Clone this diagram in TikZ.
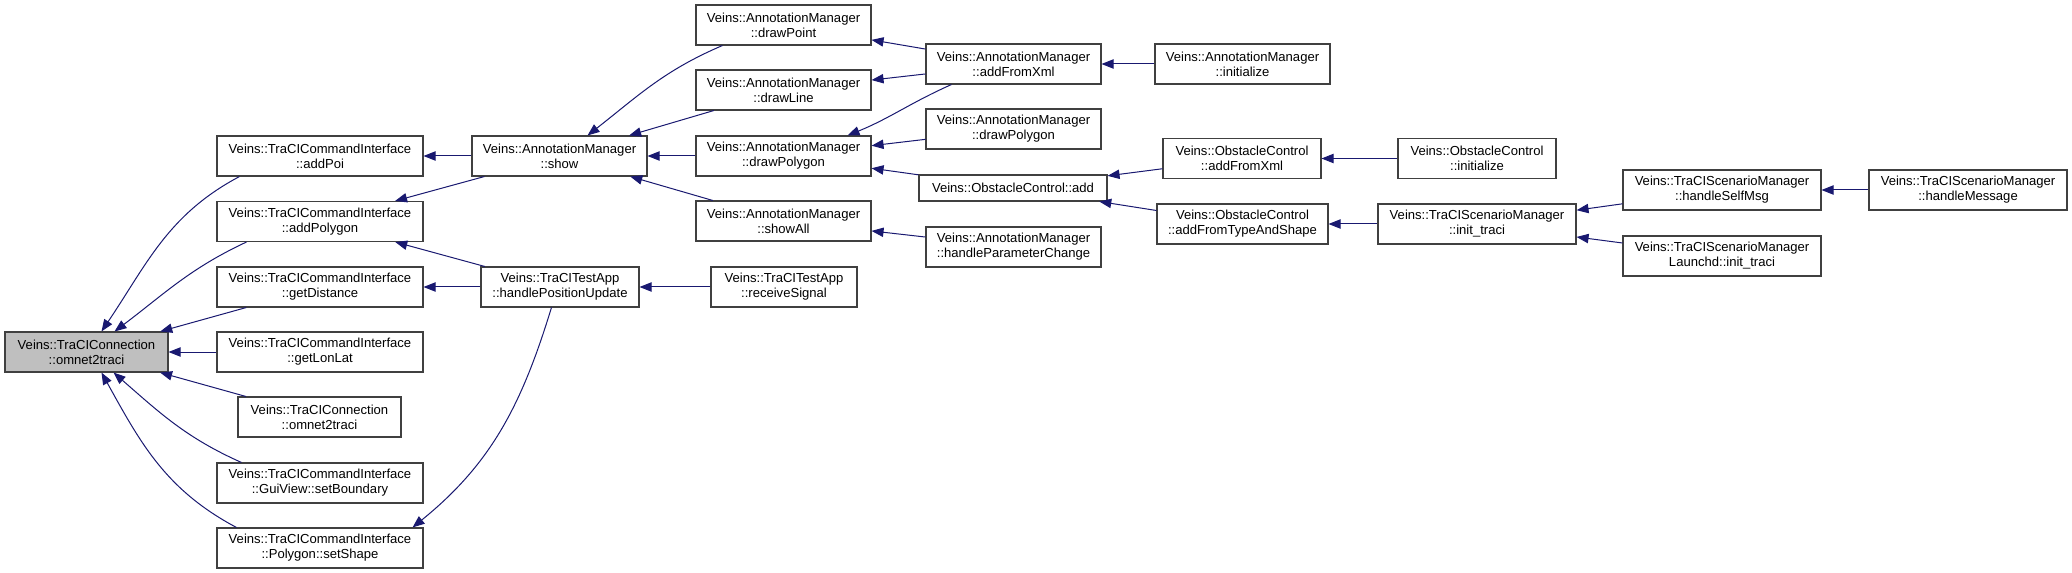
\documentclass[tikz,border=0pt]{standalone}
\usepackage{fontspec}
\setmainfont{Liberation Sans}
\usetikzlibrary{arrows.meta,calc}
\definecolor{callblue}{HTML}{191970}
\definecolor{rootgray}{HTML}{BFBFBF}
\tikzset{
  func/.style={draw=black!75, line width=0.8pt, minimum width=#1*0.75pt, minimum height=30pt,
    inner sep=0pt, align=center, font=\fontsize{9.8}{11.3}\selectfont},
  call/.style={draw=callblue, line width=0.75pt, -{Triangle[length=9pt,width=7pt]}}
}
\begin{document}
\begin{tikzpicture}[x=0.75pt, y=-0.75pt]
\useasboundingbox (0,0) rectangle (2072,573);
\node[func=163, fill=rootgray] (omnet) at (86.5,352) {Veins::TraCIConnection\\::omnet2traci};
\node[func=206] (addPoi) at (320,156) {Veins::TraCICommandInterface\\::addPoi};
\node[func=206] (addPolygon) at (320,221.5) {Veins::TraCICommandInterface\\::addPolygon};
\node[func=206] (getDistance) at (320,287) {Veins::TraCICommandInterface\\::getDistance};
\node[func=206] (getLonLat) at (320,352) {Veins::TraCICommandInterface\\::getLonLat};
\node[func=163] (omnetB) at (319.5,417) {Veins::TraCIConnection\\::omnet2traci};
\node[func=206] (setBoundary) at (320,483) {Veins::TraCICommandInterface\\::GuiView::setBoundary};
\node[func=206] (setShape) at (320,548) {Veins::TraCICommandInterface\\::Polygon::setShape};
\node[func=175] (show) at (559.5,156) {Veins::AnnotationManager\\::show};
\node[func=158] (posUpdate) at (560,287) {Veins::TraCITestApp\\::handlePositionUpdate};
\node[func=175] (drawPoint) at (783.5,25) {Veins::AnnotationManager\\::drawPoint};
\node[func=175] (drawLine) at (783.5,90) {Veins::AnnotationManager\\::drawLine};
\node[func=175] (drawPolygon) at (783.5,156) {Veins::AnnotationManager\\::drawPolygon};
\node[func=175] (showAll) at (783.5,221) {Veins::AnnotationManager\\::showAll};
\node[func=146] (receiveSignal) at (784,287) {Veins::TraCITestApp\\::receiveSignal};
\node[func=175] (amAddFromXml) at (1013.5,64) {Veins::AnnotationManager\\::addFromXml};
\node[func=175] (drawPolygonB) at (1013.5,129) {Veins::AnnotationManager\\::drawPolygon};
\node[func=188, minimum height=19.5pt] (ocAdd) at (1013,188) {Veins::ObstacleControl::add};
\node[func=175] (paramChange) at (1013.5,247) {Veins::AnnotationManager\\::handleParameterChange};
\node[func=175] (amInit) at (1242.5,64) {Veins::AnnotationManager\\::initialize};
\node[func=158] (ocAddFromXml) at (1242,158.5) {Veins::ObstacleControl\\::addFromXml};
\node[func=171] (ocTypeShape) at (1242.5,224) {Veins::ObstacleControl\\::addFromTypeAndShape};
\node[func=158] (ocInit) at (1477,158.5) {Veins::ObstacleControl\\::initialize};
\node[func=198] (initTraci) at (1477,224) {Veins::TraCIScenarioManager\\::init\_traci};
\node[func=198] (selfMsg) at (1722,190) {Veins::TraCIScenarioManager\\::handleSelfMsg};
\node[func=198] (launchdInit) at (1722,256) {Veins::TraCIScenarioManager\\Launchd::init\_traci};
\node[func=198] (handleMsg) at (1968,190) {Veins::TraCIScenarioManager\\::handleMessage};
 \draw[call] ($(addPoi.south west)+(23,0)$) to[out=208, in=56] ($(omnet.north)+(15,0)$);
 \draw[call] ($(addPolygon.south west)+(30,0)$) to[out=205, in=37] ($(omnet.north)+(28,0)$);
 \draw[call] (getDistance) -- (omnet);
 \draw[call] (getLonLat) -- (omnet);
 \draw[call] (omnetB) -- (omnet);
 \draw[call] ($(setBoundary.north west)+(25,0)$) to[out=156, in=-41] ($(omnet.south)+(27,0)$);
 \draw[call] ($(setShape.north west)+(20,0)$) to[out=152, in=-61] ($(omnet.south)+(15,0)$);
 \draw[call] (show) -- (addPoi);
 \draw[call] (show) -- (addPolygon);
 \draw[call] (posUpdate) -- (addPolygon);
 \draw[call] (posUpdate) -- (getDistance);
 \draw[call] ($(posUpdate.south west)+(71,0)$) to[out=253, in=39] ($(setShape.north east)+(-11,0)$);
 \draw[call] ($(drawPoint.south west)+(27,0)$) to[out=203, in=38] ($(show.north)+(28,0)$);
 \draw[call] (drawLine) -- (show);
 \draw[call] (drawPolygon) -- (show);
 \draw[call] (showAll) -- (show);
 \draw[call] (receiveSignal) -- (posUpdate);
 \draw[call] (amAddFromXml) -- (drawPoint);
 \draw[call] (amAddFromXml) -- (drawLine);
 \draw[call] ($(amAddFromXml.south west)+(26,0)$) to[out=204, in=22] ($(drawPolygon.north east)+(-24,0)$);
 \draw[call] (drawPolygonB) -- (drawPolygon);
 \draw[call] (ocAdd) -- (drawPolygon);
 \draw[call] (paramChange) -- (showAll);
 \draw[call] (amInit) -- (amAddFromXml);
 \draw[call] (ocAddFromXml) -- (ocAdd);
 \draw[call] (ocTypeShape) -- (ocAdd);
 \draw[call] (ocInit) -- (ocAddFromXml);
 \draw[call] (initTraci) -- (ocTypeShape);
 \draw[call] (selfMsg) -- (initTraci);
 \draw[call] (launchdInit) -- (initTraci);
 \draw[call] (handleMsg) -- (selfMsg);
\end{tikzpicture}
\end{document}
